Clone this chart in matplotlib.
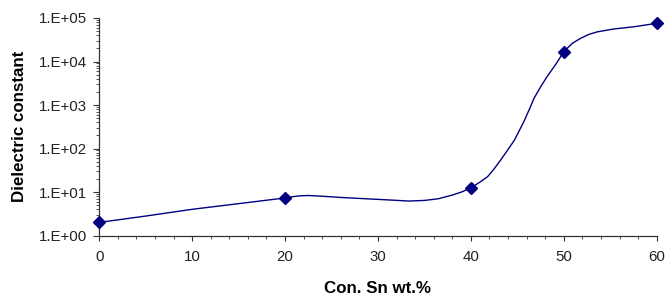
import matplotlib as mpl
import matplotlib.pyplot as plt
import numpy as np
from matplotlib.ticker import FixedLocator, FuncFormatter, LogLocator, MultipleLocator

mpl.rcParams.update({
    "font.family": ["Liberation Sans", "DejaVu Sans"],
    "axes.spines.right": False, "axes.spines.top": False,
})

# measured samples (markers)
sn_pts = [0, 20, 40, 50, 60]
eps_pts = [2.0, 7.3, 12.4, 1.68e4, 7.55e4]

# smoothed trend line
sn_line = [0, 5, 10, 15, 20, 21.0, 21.7, 22.5, 24, 26, 29.2, 31, 33.3, 35,
           36.5, 38.0, 39, 40, 41.0, 41.8, 42.5, 43.2, 44.0, 44.7, 45.7, 46.3,
           46.8, 47.5, 48.2, 49.2, 50, 50.9, 51.8, 52.7, 53.6, 55.4, 57.6, 60]
eps_line = [2.0, 2.8, 4.0, 5.4, 7.3, 7.9, 8.2, 8.3, 8.0, 7.5, 6.9, 6.6, 6.2,
            6.4, 7.0, 8.5, 10.0, 12.4, 17, 22.5, 34, 54, 95, 157, 413, 800,
            1430, 2600, 4480, 9000, 1.68e4, 2.6e4, 3.4e4, 4.2e4, 4.8e4,
            5.6e4, 6.3e4, 7.55e4]

navy = "#000080"
axc = "#333333"

fig = plt.figure(figsize=(6.66, 2.98), dpi=100)
ax = fig.add_axes([0.149, 0.2097, 0.837, 0.7299])

ax.plot(sn_line, eps_line, color=navy, linewidth=1.0, zorder=2)
ax.plot(sn_pts, eps_pts, linestyle="none", marker="D", markersize=6.5,
        color=navy, zorder=3, clip_on=False)

ax.set_yscale("log")
ax.set_xlim(0, 60)
ax.set_ylim(1, 1e5)
ax.xaxis.set_major_locator(MultipleLocator(10))
ax.xaxis.set_minor_locator(MultipleLocator(2))
ax.yaxis.set_major_locator(FixedLocator([1, 10, 100, 1e3, 1e4, 1e5]))
ax.yaxis.set_minor_locator(LogLocator(base=10, subs=np.arange(2, 10)))
ax.yaxis.set_major_formatter(
    FuncFormatter(lambda v, p: f"1.E+{int(round(np.log10(v))):02d}"))

for s in ("left", "bottom"):
    ax.spines[s].set_color(axc)
    ax.spines[s].set_linewidth(0.9)
ax.tick_params(axis="both", which="both", colors=axc, labelcolor="#222222",
               labelsize=10.8, direction="out")
ax.tick_params(axis="x", which="major", length=3.6, pad=6.8)
ax.tick_params(axis="x", which="minor", length=2.5)
ax.tick_params(axis="y", which="major", length=4.2, pad=4.8)
ax.tick_params(axis="y", which="minor", length=2)

ax.set_xlabel("Con. Sn wt.%", fontsize=12.2, fontweight="bold", labelpad=12)
ax.set_ylabel("Dielectric constant", fontsize=12.2, fontweight="bold",
              labelpad=8)

fig.savefig("out.png", dpi=100)
